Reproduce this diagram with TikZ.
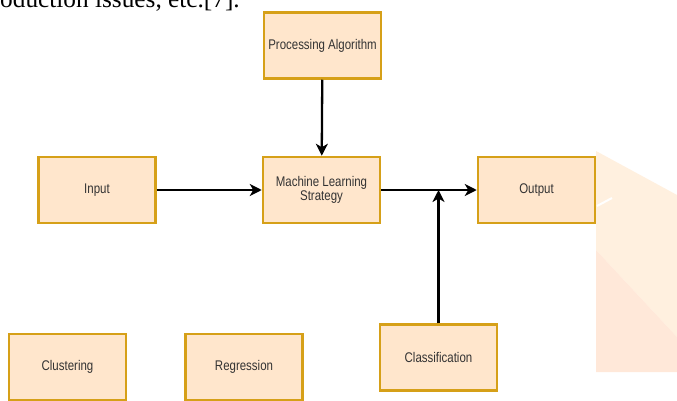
\documentclass[tikz,border=0pt]{standalone}
\usepackage{fontspec}
\setmainfont{Liberation Serif}
\newfontfamily\boxfont[FakeStretch=0.82]{Liberation Sans}
\usetikzlibrary{arrows.meta}
\definecolor{boxfill}{HTML}{FFE6CC}
\definecolor{boxline}{HTML}{D6A018}
\definecolor{boxtext}{HTML}{333333}
\definecolor{wmlight}{HTML}{FFF0DF}
\definecolor{wmdark}{HTML}{FFE8D9}
\tikzset{
  blk/.style={draw=boxline, fill=boxfill, line width=2.5pt, minimum width=117pt,
    minimum height=66pt, inner sep=2pt, align=center, text=boxtext,
    font=\boxfont\fontsize{14}{14.3}\selectfont},
  conn/.style={line width=2.3pt, draw=black,
    -{Stealth[length=12pt,width=12pt,inset=3.5pt]}}
}
\begin{document}
\begin{tikzpicture}[x=1pt,y=-1pt]
\useasboundingbox (0,0) rectangle (677,401);
\clip (0,0) rectangle (677,401);
\fill[white] (0,0) rectangle (677,401);
% watermark
\fill[wmlight] (596,151) -- (677,195) -- (677,337) -- (596,250) -- cycle;
\fill[wmdark] (596,250) -- (677,337) -- (677,372) -- (596,372) -- cycle;
\draw[white, line width=2pt] (597,206) -- (612,198);
% cropped text line
\node[anchor=base east, inner sep=0pt, font=\fontsize{25.3}{28}\selectfont] (txt) at (240,7.5) {oduction issues, etc.[7].};
% boxes
\node[blk] (proc) at (322.5,45.5) {Processing Algorithm};
\node[blk] (inp) at (97,190) {Input};
\node[blk] (ml) at (321.5,190) {Machine Learning\\Strategy};
\node[blk] (out) at (536.5,190) {Output};
\node[blk] (clu) at (67.5,367) {Clustering};
\node[blk] (reg) at (244,367) {Regression};
\node[blk] (cla) at (438.5,357.5) {Classification};
\coordinate (j) at (438.5,190);
% connectors
\draw[conn] (proc) -- (ml);
\draw[conn] (inp) -- (ml);
\draw[conn] (ml) -- (out);
\draw[conn] (cla) -- (j);
\end{tikzpicture}
\end{document}
